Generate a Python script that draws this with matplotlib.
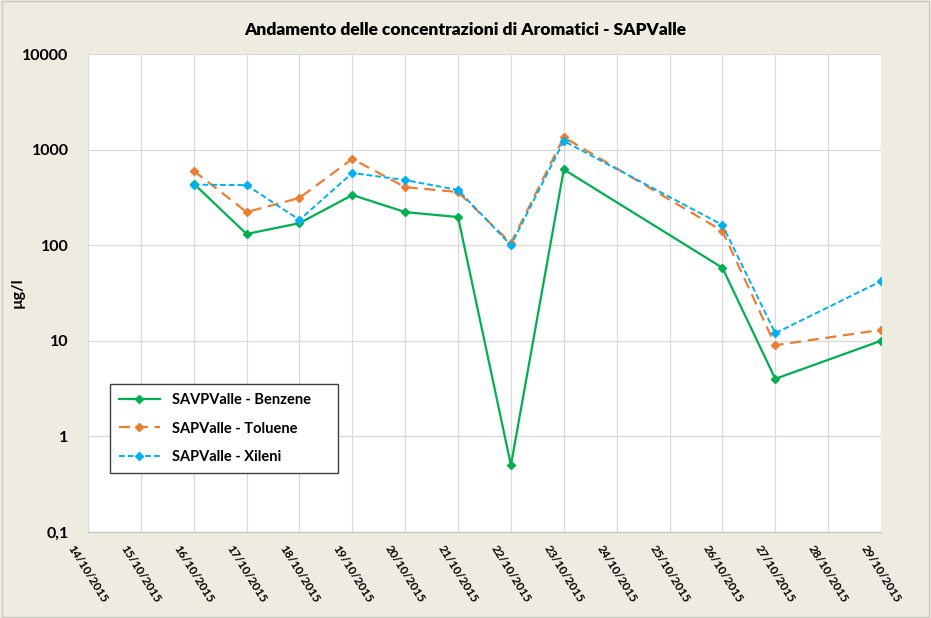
import numpy as np
import pandas as pd
import matplotlib
matplotlib.use("Agg")
import matplotlib.pyplot as plt
import matplotlib.dates as mdates
from matplotlib.ticker import FixedLocator, FuncFormatter, NullLocator

plt.rcParams['font.family'] = ['Lato', 'DejaVu Sans']

date = ["16/10/2015", "17/10/2015", "18/10/2015", "19/10/2015", "20/10/2015",
        "21/10/2015", "22/10/2015", "23/10/2015", "26/10/2015", "27/10/2015",
        "29/10/2015"]
benzene = [440, 131, 170, 335, 222, 197, 0.5, 620, 58, 4, 10]
toluene = [600, 222, 312, 800, 405, 360, 105, 1350, 141, 9, 13]
xileni = [430, 425, 184, 570, 480, 378, 100, 1230, 163, 12, 42]

x = pd.to_datetime(date, format="%d/%m/%Y")

bg = '#EEEBE0'
fig = plt.figure(figsize=(9.31, 6.18), dpi=100, facecolor=bg)
fig.patches.append(plt.Rectangle((0.002, 0.002), 0.996, 0.996, transform=fig.transFigure,
                                 fill=False, edgecolor='#C8C8C8', linewidth=1))
ax = fig.add_axes([0.0945, 0.1392, 0.8518, 0.7734])
ax.set_facecolor('white')

ax.plot(x, benzene, color='#00B050', lw=1.6, marker='D', ms=4,
        label='SAVPValle - Benzene')
ax.plot(x, toluene, color='#ED7D31', lw=1.6, ls=(0, (5, 3)), marker='D', ms=4,
        label='SAPValle - Toluene')
ax.plot(x, xileni, color='#00B0F0', lw=1.4, ls=(0, (3, 1.5)), marker='D', ms=4,
        label='SAPValle - Xileni')

ax.set_yscale('log')
ax.set_ylim(0.1, 10000)
ax.yaxis.set_major_locator(FixedLocator([0.1, 1, 10, 100, 1000, 10000]))
ax.yaxis.set_minor_locator(NullLocator())
ax.yaxis.set_major_formatter(FuncFormatter(lambda v, p: ('%g' % v).replace('.', ',')))

ax.set_xlim(pd.Timestamp('2015-10-14'), pd.Timestamp('2015-10-29'))
ax.xaxis.set_major_locator(mdates.DayLocator())
ax.xaxis.set_major_formatter(mdates.DateFormatter('%d/%m/%Y'))

ax.grid(True, color='#D9D9D9', lw=0.9)
ax.set_axisbelow(True)
for s in ['top', 'right', 'left']:
    ax.spines[s].set_visible(False)
ax.spines['bottom'].set_color('#BFBFBF')
ax.tick_params(length=0)
ax.tick_params(axis='y', labelsize=11.5, pad=14)
ax.tick_params(axis='x', pad=8)
for t in ax.get_yticklabels():
    t.set_fontweight('bold')
for t in ax.get_xticklabels():
    t.set_rotation(-58)
    t.set_ha('center')
    t.set_va('top')
    t.set_fontsize(8.5)
    t.set_fontweight('bold')

ax.set_ylabel('µg/l', fontsize=11.5, fontweight='bold', labelpad=-2)
fig.suptitle('Andamento delle concentrazioni di Aromatici - SAPValle',
             fontsize=12.5, fontweight='heavy', y=0.965)

leg = ax.legend(loc='lower left', bbox_to_anchor=(0.1106, 0.2230, 0.26, 0.1424),
                bbox_transform=fig.transFigure, mode='expand', fancybox=False,
                framealpha=1, edgecolor='#404040', borderpad=0.6, labelspacing=1.0,
                handlelength=2.8, prop={'weight': 'bold', 'size': 10.5})
leg.get_frame().set_linewidth(1)

fig.savefig('out.png', dpi=100, facecolor=bg)
